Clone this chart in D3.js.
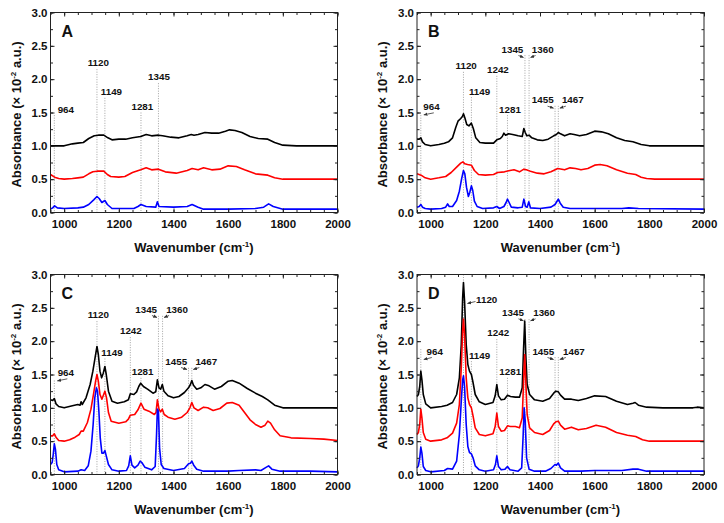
<!DOCTYPE html>
<html><head><meta charset="utf-8">
<script src="https://cdn.jsdelivr.net/npm/d3@7"></script>
<style>
body{margin:0;background:#fff}
svg{display:block}
text{font-family:"Liberation Sans",Arial,Helvetica,sans-serif;font-weight:bold;fill:#111}
</style>
</head><body>
<svg id="chart" width="724" height="523"></svg>
<script>
// ---------- tick labels ----------
const xTicks = [1000, 1200, 1400, 1600, 1800, 2000];
const yTicks = [0.0, 0.5, 1.0, 1.5, 2.0, 2.5, 3.0];
const panelLetters = ["A", "B", "C", "D"];
const seriesColors = ["#000000", "#ff0000", "#0000ff"];

// ---------- spectra: [wavenumber, absorbance] ----------
const A_black = [[950,1.00],[1000,1.00],[1030,1.03],[1050,1.04],[1070,1.05],[1090,1.11],[1110,1.15],[1125,1.16],[1145,1.16],[1160,1.12],[1175,1.09],[1200,1.10],[1225,1.10],[1250,1.12],[1280,1.14],[1300,1.17],[1320,1.15],[1345,1.16],[1360,1.15],[1390,1.13],[1420,1.12],[1450,1.15],[1465,1.17],[1475,1.16],[1490,1.17],[1515,1.20],[1540,1.19],[1565,1.19],[1590,1.22],[1605,1.24],[1625,1.23],[1650,1.20],[1680,1.14],[1710,1.11],[1745,1.10],[1770,1.05],[1800,1.01],[1850,1.00],[2000,1.00]];
const A_red = [[950,0.57],[965,0.53],[980,0.51],[1000,0.50],[1030,0.51],[1050,0.52],[1070,0.53],[1090,0.58],[1105,0.61],[1120,0.62],[1145,0.62],[1158,0.57],[1170,0.54],[1200,0.53],[1222,0.54],[1250,0.60],[1280,0.64],[1300,0.67],[1320,0.64],[1345,0.65],[1370,0.61],[1410,0.59],[1450,0.63],[1468,0.66],[1490,0.64],[1510,0.67],[1540,0.64],[1570,0.65],[1600,0.70],[1630,0.69],[1660,0.64],[1700,0.58],[1745,0.56],[1770,0.52],[1800,0.50],[2000,0.50]];
const A_blue = [[950,0.05],[958,0.07],[965,0.10],[975,0.07],[1000,0.06],[1050,0.07],[1070,0.08],[1090,0.12],[1108,0.19],[1120,0.24],[1128,0.21],[1138,0.15],[1149,0.18],[1158,0.12],[1175,0.06],[1230,0.06],[1255,0.06],[1270,0.09],[1281,0.12],[1300,0.09],[1335,0.08],[1341,0.16],[1347,0.09],[1400,0.08],[1450,0.09],[1468,0.12],[1490,0.08],[1510,0.05],[1600,0.05],[1700,0.06],[1730,0.08],[1748,0.13],[1765,0.09],[1800,0.05],[2000,0.05]];

const B_black = [[950,1.10],[958,1.10],[964,1.12],[970,1.06],[980,1.02],[1000,1.00],[1030,1.02],[1050,1.04],[1065,1.06],[1080,1.12],[1092,1.28],[1100,1.37],[1110,1.41],[1116,1.44],[1120,1.48],[1125,1.42],[1132,1.32],[1140,1.30],[1149,1.34],[1156,1.26],[1165,1.12],[1180,1.05],[1200,1.04],[1230,1.04],[1242,1.09],[1255,1.11],[1262,1.14],[1268,1.19],[1274,1.16],[1285,1.18],[1300,1.17],[1320,1.15],[1335,1.14],[1341,1.26],[1346,1.20],[1352,1.15],[1360,1.16],[1370,1.12],[1390,1.09],[1410,1.08],[1430,1.10],[1450,1.15],[1460,1.17],[1467,1.20],[1475,1.18],[1490,1.15],[1510,1.18],[1525,1.17],[1545,1.15],[1570,1.17],[1600,1.22],[1625,1.21],[1650,1.18],[1680,1.12],[1710,1.08],[1740,1.06],[1770,1.02],[1800,1.00],[2000,1.00]];
const B_red = [[950,0.58],[965,0.56],[980,0.52],[1000,0.50],[1030,0.52],[1055,0.54],[1075,0.60],[1095,0.68],[1110,0.74],[1118,0.76],[1125,0.73],[1135,0.72],[1149,0.71],[1160,0.63],[1175,0.57],[1200,0.56],[1230,0.57],[1245,0.60],[1270,0.61],[1290,0.63],[1305,0.64],[1325,0.61],[1341,0.65],[1350,0.64],[1365,0.62],[1390,0.59],[1415,0.58],[1440,0.61],[1465,0.66],[1490,0.64],[1510,0.67],[1530,0.66],[1550,0.64],[1575,0.66],[1600,0.71],[1620,0.72],[1645,0.70],[1680,0.64],[1720,0.59],[1750,0.57],[1770,0.53],[1790,0.51],[1820,0.50],[2000,0.50]];
const B_blue = [[950,0.08],[958,0.09],[964,0.12],[970,0.08],[980,0.06],[1000,0.05],[1040,0.06],[1055,0.08],[1062,0.13],[1068,0.09],[1080,0.09],[1095,0.18],[1105,0.32],[1113,0.50],[1120,0.63],[1125,0.58],[1131,0.38],[1138,0.24],[1143,0.30],[1149,0.40],[1154,0.33],[1160,0.17],[1170,0.09],[1190,0.06],[1230,0.07],[1242,0.09],[1252,0.06],[1268,0.09],[1276,0.15],[1281,0.20],[1287,0.15],[1295,0.08],[1320,0.07],[1335,0.08],[1341,0.20],[1347,0.09],[1353,0.08],[1359,0.16],[1365,0.07],[1400,0.06],[1440,0.08],[1455,0.12],[1464,0.18],[1467,0.20],[1474,0.14],[1485,0.08],[1510,0.06],[1600,0.06],[1700,0.06],[1725,0.07],[1760,0.06],[2000,0.05]];

const C_black = [[950,1.12],[958,1.11],[964,1.14],[970,1.06],[980,1.02],[1000,1.00],[1030,1.03],[1050,1.05],[1058,1.04],[1062,1.09],[1066,1.05],[1080,1.15],[1095,1.35],[1105,1.55],[1113,1.75],[1120,1.92],[1125,1.80],[1131,1.55],[1137,1.45],[1143,1.52],[1149,1.62],[1154,1.50],[1162,1.25],[1175,1.10],[1195,1.07],[1220,1.09],[1235,1.12],[1242,1.21],[1255,1.20],[1265,1.24],[1273,1.32],[1280,1.37],[1290,1.32],[1305,1.28],[1325,1.22],[1335,1.24],[1341,1.42],[1347,1.30],[1353,1.28],[1359,1.35],[1365,1.25],[1380,1.18],[1400,1.15],[1420,1.17],[1440,1.23],[1455,1.30],[1462,1.35],[1467,1.41],[1473,1.34],[1485,1.28],[1500,1.30],[1515,1.35],[1530,1.33],[1550,1.28],[1575,1.32],[1600,1.40],[1615,1.41],[1640,1.37],[1670,1.29],[1700,1.22],[1725,1.17],[1745,1.12],[1770,1.04],[1800,1.00],[2000,1.00]];
const C_red = [[950,0.58],[958,0.58],[964,0.61],[970,0.56],[980,0.51],[1000,0.50],[1020,0.52],[1040,0.56],[1055,0.60],[1062,0.65],[1070,0.65],[1085,0.78],[1098,0.98],[1108,1.22],[1115,1.40],[1120,1.50],[1125,1.40],[1131,1.20],[1138,1.13],[1149,1.25],[1155,1.15],[1162,0.93],[1172,0.80],[1200,0.77],[1225,0.79],[1235,0.83],[1242,0.89],[1258,0.90],[1270,0.97],[1281,1.07],[1292,0.98],[1310,0.95],[1330,0.90],[1336,0.93],[1341,1.12],[1347,0.98],[1353,0.94],[1359,0.98],[1366,0.90],[1380,0.86],[1405,0.83],[1430,0.86],[1450,0.93],[1460,1.00],[1467,1.08],[1475,1.00],[1490,0.96],[1510,1.01],[1525,1.00],[1545,0.96],[1570,0.99],[1595,1.07],[1615,1.08],[1640,1.04],[1660,0.93],[1680,0.82],[1700,0.75],[1720,0.71],[1735,0.74],[1745,0.80],[1755,0.77],[1770,0.67],[1790,0.58],[1830,0.55],[1900,0.54],[1950,0.53],[2000,0.51]];
const C_blue = [[950,0.15],[956,0.18],[960,0.30],[964,0.46],[968,0.38],[973,0.15],[980,0.07],[1000,0.04],[1050,0.05],[1062,0.07],[1075,0.06],[1088,0.13],[1098,0.35],[1106,0.75],[1112,1.15],[1118,1.30],[1122,1.25],[1127,0.95],[1132,0.55],[1138,0.32],[1144,0.32],[1149,0.36],[1154,0.28],[1162,0.15],[1175,0.07],[1200,0.05],[1228,0.06],[1236,0.13],[1242,0.28],[1248,0.14],[1258,0.10],[1270,0.14],[1278,0.20],[1284,0.18],[1295,0.11],[1320,0.07],[1333,0.12],[1338,0.60],[1341,0.98],[1345,0.95],[1349,0.40],[1355,0.15],[1365,0.09],[1400,0.06],[1440,0.09],[1455,0.16],[1462,0.17],[1467,0.20],[1474,0.14],[1485,0.08],[1510,0.05],[1600,0.05],[1640,0.06],[1700,0.07],[1720,0.06],[1740,0.11],[1748,0.13],[1760,0.08],[1790,0.05],[1900,0.05],[2000,0.04]];

const D_black = [[950,1.17],[955,1.20],[960,1.32],[964,1.55],[968,1.42],[973,1.20],[982,1.06],[1000,1.00],[1040,1.02],[1060,1.04],[1080,1.08],[1095,1.20],[1105,1.45],[1112,1.95],[1117,2.65],[1120,2.88],[1124,2.60],[1130,1.95],[1136,1.65],[1142,1.55],[1149,1.50],[1155,1.38],[1163,1.20],[1178,1.09],[1200,1.05],[1228,1.08],[1236,1.18],[1242,1.35],[1248,1.18],[1258,1.12],[1270,1.13],[1281,1.19],[1292,1.17],[1310,1.16],[1325,1.16],[1335,1.30],[1340,1.90],[1344,2.30],[1348,1.80],[1353,1.35],[1362,1.20],[1380,1.12],[1410,1.10],[1435,1.14],[1450,1.22],[1458,1.25],[1467,1.24],[1475,1.19],[1490,1.13],[1515,1.13],[1540,1.11],[1570,1.14],[1600,1.18],[1640,1.17],[1680,1.10],[1720,1.05],[1740,1.07],[1748,1.08],[1760,1.04],[1790,1.01],[1850,1.00],[1960,1.00],[1975,1.01],[2000,1.00]];
const D_red = [[950,0.60],[955,0.63],[960,0.75],[964,0.98],[968,0.85],[973,0.63],[982,0.53],[1000,0.50],[1040,0.52],[1060,0.55],[1080,0.62],[1095,0.77],[1105,1.05],[1112,1.60],[1117,2.15],[1120,2.33],[1124,2.10],[1130,1.45],[1136,1.15],[1142,1.05],[1149,1.00],[1155,0.88],[1163,0.70],[1178,0.60],[1200,0.58],[1228,0.61],[1236,0.72],[1242,0.92],[1248,0.72],[1258,0.65],[1270,0.66],[1281,0.73],[1292,0.72],[1310,0.72],[1325,0.70],[1335,0.85],[1340,1.40],[1344,1.80],[1348,1.40],[1353,0.90],[1362,0.70],[1380,0.63],[1410,0.60],[1435,0.66],[1450,0.76],[1458,0.79],[1467,0.80],[1475,0.74],[1490,0.68],[1515,0.71],[1540,0.67],[1570,0.69],[1605,0.74],[1640,0.71],[1680,0.63],[1720,0.59],[1750,0.57],[1775,0.52],[1800,0.50],[2000,0.50]];
const D_blue = [[950,0.10],[955,0.13],[960,0.25],[964,0.41],[968,0.32],[973,0.12],[982,0.06],[1000,0.04],[1050,0.06],[1062,0.09],[1080,0.08],[1095,0.20],[1105,0.60],[1112,1.10],[1117,1.42],[1120,1.48],[1124,1.32],[1130,0.75],[1136,0.42],[1142,0.33],[1149,0.31],[1155,0.25],[1163,0.13],[1178,0.07],[1200,0.05],[1230,0.07],[1237,0.15],[1242,0.28],[1248,0.12],[1258,0.07],[1272,0.08],[1281,0.12],[1290,0.07],[1320,0.05],[1333,0.10],[1338,0.55],[1342,1.00],[1346,0.80],[1351,0.25],[1360,0.08],[1380,0.05],[1420,0.05],[1440,0.09],[1455,0.15],[1460,0.14],[1467,0.17],[1475,0.10],[1490,0.05],[1550,0.05],[1600,0.06],[1700,0.06],[1740,0.08],[1760,0.08],[1790,0.05],[2000,0.05]];

// ---------- band annotations ----------
const annA = [
  {wn:964, lx:1006, ly:1.49, top:1.46, dir:0},
  {wn:1120, lx:1125, ly:2.20, top:2.15, dir:0},
  {wn:1149, lx:1173, ly:1.76, top:1.72, dir:0},
  {wn:1281, lx:1286, ly:1.54, top:1.50, dir:0},
  {wn:1345, lx:1347, ly:1.99, top:1.94, dir:0}
];
const annB = [
  {wn:964, lx:1003, ly:1.54, top:1.46, dir:1, len:10, gap:3},
  {wn:1120, lx:1130, ly:2.16, top:2.11, dir:0},
  {wn:1149, lx:1179, ly:1.77, top:1.73, dir:0},
  {wn:1242, lx:1246, ly:2.10, top:2.05, dir:0},
  {wn:1281, lx:1290, ly:1.50, top:1.46, dir:0},
  {wn:1345, lx:1299, ly:2.40, top:2.36, dir:-1, len:5},
  {wn:1360, lx:1410, ly:2.40, top:2.36, dir:1, len:5},
  {wn:1455, lx:1410, ly:1.64, top:1.60, dir:-1, len:6},
  {wn:1467, lx:1520, ly:1.64, top:1.60, dir:1, len:6}
];
const annC = [
  {wn:964, lx:1006, ly:1.48, top:1.41, dir:1, len:10, gap:3},
  {wn:1120, lx:1125, ly:2.35, top:2.30, dir:0},
  {wn:1149, lx:1175, ly:1.78, top:1.74, dir:0},
  {wn:1242, lx:1244, ly:2.11, top:2.06, dir:0},
  {wn:1281, lx:1287, ly:1.50, top:1.45, dir:0},
  {wn:1345, lx:1300, ly:2.43, top:2.38, dir:-1, len:5},
  {wn:1360, lx:1413, ly:2.43, top:2.38, dir:1, len:5},
  {wn:1455, lx:1410, ly:1.65, top:1.60, dir:-1, len:6},
  {wn:1467, lx:1520, ly:1.65, top:1.60, dir:1, len:6}
];
const annD = [
  {wn:964, lx:1015, ly:1.80, top:1.88, dir:1, len:8, gap:3},
  {wn:1120, lx:1205, ly:2.58, top:3.00, dir:1, len:8, gap:4, dy:-1},
  {wn:1149, lx:1179, ly:1.74, top:1.70, dir:0},
  {wn:1242, lx:1247, ly:2.08, top:2.03, dir:0},
  {wn:1281, lx:1291, ly:1.49, top:1.45, dir:0},
  {wn:1345, lx:1301, ly:2.38, top:2.33, dir:-1, len:5},
  {wn:1360, lx:1415, ly:2.38, top:2.33, dir:1, len:5},
  {wn:1455, lx:1412, ly:1.80, top:1.76, dir:-1, len:6},
  {wn:1467, lx:1524, ly:1.80, top:1.76, dir:1, len:6}
];

// ---------- layout ----------
const W = 287, H = 200;
const panels = [
  {letter:panelLetters[0], left:50.5, top:12.5, series:[A_black, A_red, A_blue], ann:annA},
  {letter:panelLetters[1], left:417, top:12.5, series:[B_black, B_red, B_blue], ann:annB},
  {letter:panelLetters[2], left:50.5, top:274.5, series:[C_black, C_red, C_blue], ann:annC},
  {letter:panelLetters[3], left:417, top:274.5, series:[D_black, D_red, D_blue], ann:annD}
];

const svg = d3.select("#chart");
const defs = svg.append("defs");
defs.append("marker").attr("id","ah").attr("viewBox","0 0 6 6").attr("refX",5.5).attr("refY",3)
  .attr("markerUnits","userSpaceOnUse").attr("markerWidth",4).attr("markerHeight",4).attr("orient","auto")
  .append("path").attr("d","M0,0.5 L6,3 L0,5.5 z").attr("fill","#333");

const x = d3.scaleLinear().domain([950, 2000]).range([0, W]);
const y = d3.scaleLinear().domain([0, 3]).range([H, 0]);
const xMinor = d3.range(950, 2001, 50);
const yMinor = d3.range(0, 3.001, 0.25);
const line = d3.line().x(d => x(d[0])).y(d => y(d[1]));

panels.forEach(p => {
  const g = svg.append("g").attr("transform", `translate(${p.left},${p.top})`);

  p.ann.forEach(a => {
    g.append("line").attr("x1", x(a.wn)).attr("x2", x(a.wn)).attr("y1", y(a.top)).attr("y2", H)
      .attr("stroke", "#8a8a8a").attr("stroke-width", 0.8).attr("stroke-dasharray", "1,1.5");
  });

  p.series.forEach((s, i) => {
    g.append("path").datum(s).attr("d", line).attr("fill", "none")
      .attr("stroke", seriesColors[i]).attr("stroke-width", 1.6).attr("stroke-linejoin", "round");
  });

  p.ann.forEach(a => {
    g.append("text").attr("x", x(a.lx)).attr("y", y(a.ly)).attr("text-anchor", "middle")
      .attr("font-size", "9.8px").text(String(a.wn));
    if (a.dir) {
      const gap = a.gap || 1.5, len = a.len || 6, dy = (a.dy === undefined ? 3 : a.dy);
      const lx = x(a.wn), by = y(a.ly);
      g.append("line").attr("x1", lx + a.dir * (gap + len)).attr("y1", by + dy)
        .attr("x2", lx + a.dir * gap).attr("y2", by + dy + 2)
        .attr("stroke", "#333").attr("stroke-width", 0.8).attr("marker-end", "url(#ah)");
    }
  });

  const fmtY = d3.format(".1f");
  g.append("g").attr("transform", `translate(0,${H})`)
    .call(d3.axisBottom(x).tickValues(xTicks).tickSize(-4).tickPadding(7.5).tickFormat(d3.format("d")));
  g.append("g").attr("transform", `translate(0,${H})`)
    .call(d3.axisBottom(x).tickValues(xMinor).tickSize(-2.5).tickFormat(""));
  g.append("g").call(d3.axisTop(x).tickValues(xTicks).tickSize(-4).tickFormat(""));
  g.append("g").call(d3.axisTop(x).tickValues(xMinor).tickSize(-2.5).tickFormat(""));
  g.append("g").call(d3.axisLeft(y).tickValues(yTicks).tickSize(-4).tickPadding(3).tickFormat(fmtY));
  g.append("g").call(d3.axisLeft(y).tickValues(yMinor).tickSize(-2.5).tickFormat(""));
  g.append("g").attr("transform", `translate(${W},0)`).call(d3.axisRight(y).tickValues(yTicks).tickSize(-4).tickFormat(""));
  g.append("g").attr("transform", `translate(${W},0)`).call(d3.axisRight(y).tickValues(yMinor).tickSize(-2.5).tickFormat(""));
  g.selectAll(".domain").remove();
  g.selectAll(".tick line").attr("stroke", "#222");
  g.selectAll(".tick text").attr("font-size", "11.5px").attr("font-family", "'Liberation Sans',Arial,sans-serif").attr("font-weight", "bold").attr("fill", "#111");

  g.append("rect").attr("x", 0).attr("y", 0).attr("width", W).attr("height", H)
    .attr("fill", "none").attr("stroke", "#222").attr("stroke-width", 1);

  g.append("text").attr("x", 11).attr("y", 24).attr("font-size", "16px").text(p.letter);

  const xt = g.append("text").attr("x", W / 2).attr("y", H + 39).attr("text-anchor", "middle").attr("font-size", "13px");
  xt.append("tspan").text("Wavenumber (cm");
  xt.append("tspan").attr("dy", -5).attr("font-size", "8px").text("-1");
  xt.append("tspan").attr("dy", 5).text(")");

  const yt = g.append("text").attr("transform", `translate(-30,${H / 2 + 2}) rotate(-90)`)
    .attr("text-anchor", "middle").attr("font-size", "13px");
  yt.append("tspan").text("Absorbance (\u00d7 10");
  yt.append("tspan").attr("dy", -5).attr("font-size", "8px").text("-2");
  yt.append("tspan").attr("dy", 5).text(" a.u.)");
});
</script>
</body></html>
